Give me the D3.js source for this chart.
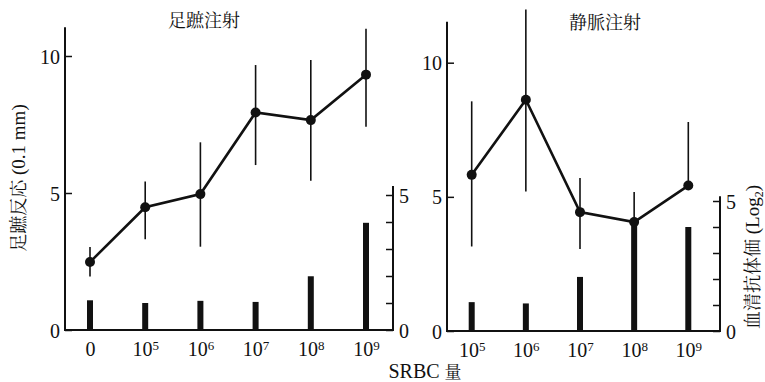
<!DOCTYPE html>
<html><head><meta charset="utf-8">
<script src="https://cdn.jsdelivr.net/npm/d3@7"></script>
<style>
body{margin:0;background:#fff;}
svg text{font-family:'Liberation Serif', serif;}
</style></head>
<body><svg id="c" width="765" height="382"></svg>
<script>
// ---- data ----
const catsLeft = ["0","10^5","10^6","10^7","10^8","10^9"];
const footLeft = [2.48, 4.48, 4.96, 7.94, 7.66, 9.32];
const footLeftHi = [3.03, 5.42, 6.85, 9.67, 9.85, 10.99];
const footLeftLo = [1.95, 3.31, 3.04, 6.02, 5.45, 7.42];
const titerLeft = [1.1, 1.0, 1.08, 1.04, 1.99, 3.97];

const catsRight = ["10^5","10^6","10^7","10^8","10^9"];
const footRight = [5.82, 8.62, 4.43, 4.06, 5.42];
const footRightHi = [8.56, 11.98, 5.70, 5.18, 7.79];
const footRightLo = [3.15, 5.2, 3.06, 3.0, 5.42];
const titerRight = [1.11, 1.06, 2.08, 4.2, 4.0];

const leftTicks = [0, 5, 10];
const rightTicks = [0, 1, 2, 3, 4, 5];
const rightTickLabels = [0, 5];

const SERIF = "'Liberation Serif', serif";
const CJK = "'Noto Serif CJK JP', 'Noto Sans CJK JP', serif";

const svg = d3.select("#c");

function fmtCat(sel){
  sel.each(function(){
    const t = d3.select(this); const s = t.text();
    if (s.includes("^")) {
      const [b,e] = s.split("^");
      t.text(null);
      t.append("tspan").text(b);
      t.append("tspan").attr("dy","-0.45em").style("font-size","13px").text(e);
    }
  });
}

function panel(o){
  const x = d3.scalePoint().domain(o.cats).range(o.xr);
  const yL = d3.scaleLinear().domain([0,10]).range(o.yLr);
  const yR = d3.scaleLinear().domain([0,5]).range(o.yRr);
  const g = svg.append("g");
  g.append("line").attr("x1",o.x0).attr("x2",o.x0).attr("y1",yL(0)).attr("y2",yL(o.yTop)).attr("stroke","#111").attr("stroke-width",2);
  g.append("line").attr("x1",o.x0-1).attr("x2",o.x1+1).attr("y1",yL(0)).attr("y2",yL(0)).attr("stroke","#111").attr("stroke-width",2);
  g.append("line").attr("x1",o.x1).attr("x2",o.x1).attr("y1",yR(0)).attr("y2",yR(o.rTop)).attr("stroke","#111").attr("stroke-width",2);

  const aL = g.append("g").attr("transform",`translate(${o.x0},0)`)
    .call(d3.axisLeft(yL).tickValues(leftTicks).tickSize(-7).tickPadding(5).tickFormat(d3.format("d")));
  aL.attr("font-family",null).attr("font-size",null);
  aL.select(".domain").remove();
  aL.selectAll("line").attr("stroke","#111").attr("stroke-width",1.5);
  aL.selectAll("text").attr("font-family",SERIF).style("font-family",SERIF).style("font-size","20px").attr("fill","#111").attr("dy","0.35em");

  const aR = g.append("g").attr("transform",`translate(${o.x1},0)`)
    .call(d3.axisRight(yR).tickValues(rightTicks).tickSize(-7).tickPadding(6)
      .tickFormat(d => rightTickLabels.includes(d) ? d : ""));
  aR.attr("font-family",null).attr("font-size",null);
  aR.select(".domain").remove();
  aR.selectAll("line").attr("stroke","#111").attr("stroke-width",1.5);
  aR.selectAll("text").attr("font-family",SERIF).style("font-family",SERIF).style("font-size","20px").attr("fill","#111").attr("dy","0.35em");

  const aX = g.append("g").attr("transform",`translate(0,${yL(0)})`)
    .call(d3.axisBottom(x).tickSize(0).tickPadding(12));
  aX.attr("font-family",null).attr("font-size",null);
  aX.select(".domain").remove();
  aX.selectAll("text").attr("font-family",SERIF).style("font-family",SERIF).style("font-size","20px").attr("fill","#111").attr("dy","0.71em").call(fmtCat);

  g.selectAll(".bar").data(o.titer).join("rect")
    .attr("x",(d,i)=>x(o.cats[i])-3).attr("width",6)
    .attr("y",d=>yR(d)).attr("height",d=>yR(0)-yR(d)).attr("fill","#111");

  g.selectAll(".err").data(o.cats).join("line")
    .attr("x1",d=>x(d)).attr("x2",d=>x(d))
    .attr("y1",(d,i)=>yL(o.hi[i])).attr("y2",(d,i)=>yL(o.lo[i]))
    .attr("stroke","#111").attr("stroke-width",1.6);

  const line = d3.line().x((d,i)=>x(o.cats[i])).y(d=>yL(d));
  g.append("path").datum(o.vals).attr("d",line).attr("fill","none").attr("stroke","#111").attr("stroke-width",2.6);
  g.selectAll(".pt").data(o.vals).join("circle")
    .attr("cx",(d,i)=>x(o.cats[i])).attr("cy",d=>yL(d)).attr("r",5).attr("fill","#111");

  g.append("text").attr("x",o.titleX).attr("y",o.titleY)
    .attr("text-anchor","middle").style("font-family",CJK).style("font-size","18px").attr("fill","#111").text(o.title);
}

panel({cats:catsLeft, vals:footLeft, hi:footLeftHi, lo:footLeftLo, titer:titerLeft,
  xr:[90,366], yLr:[330,56], yRr:[330,195], x0:65, x1:393, yTop:11.05, rTop:5.33,
  title:"足蹠注射", titleX:204, titleY:27});
panel({cats:catsRight, vals:footRight, hi:footRightHi, lo:footRightLo, titer:titerRight,
  xr:[471.7,688.3], yLr:[331,62.7], yRr:[331,201], x0:447, x1:720, yTop:11.53, rTop:5.18,
  title:"静脈注射", titleX:605, titleY:29});

// axis titles
const t1 = svg.append("text").attr("transform","translate(25,178) rotate(-90)").attr("text-anchor","middle")
  .style("font-family",SERIF).style("font-size","19px").attr("fill","#111");
t1.append("tspan").style("font-family",CJK).style("font-size","18px").text("足蹠反応");
t1.append("tspan").text(" (0.1 mm)");

const t2 = svg.append("text").attr("transform","translate(759,257) rotate(-90)").attr("text-anchor","middle")
  .style("font-family",SERIF).style("font-size","19px").attr("fill","#111");
t2.append("tspan").style("font-family",CJK).style("font-size","18px").text("血清抗体価");
t2.append("tspan").text(" (Log");
t2.append("tspan").style("font-size","12px").attr("dy",4).text("2");
t2.append("tspan").attr("dy",-4).text(")");

const t3 = svg.append("text").attr("x",425).attr("y",378).attr("text-anchor","middle")
  .style("font-family",SERIF).style("font-size","20px").attr("fill","#111");
t3.append("tspan").text("SRBC ");
t3.append("tspan").style("font-family",CJK).style("font-size","17px").text("量");
</script></body></html>
